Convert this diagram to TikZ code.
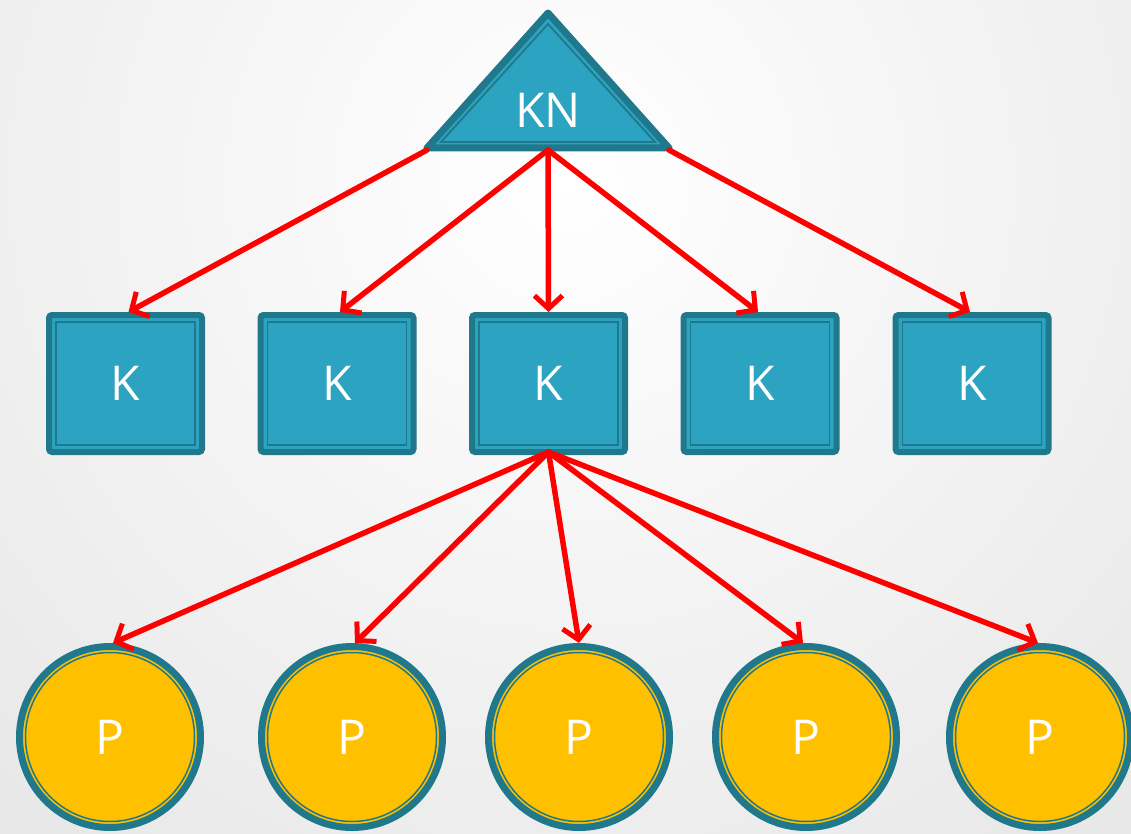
\documentclass[tikz,border=0pt]{standalone}
\usepackage{fontspec}
\setmainfont{Open Sans}
\usetikzlibrary{arrows.meta}
\definecolor{tealfill}{HTML}{2CA3C0}
\definecolor{tealdark}{HTML}{1F788B}
\definecolor{gold}{HTML}{FFC000}
\definecolor{arrowred}{HTML}{FF0000}
\tikzset{
  labeltext/.style={text=white,font=\fontsize{48}{50}\selectfont},
  kbox/.style={rectangle,draw=tealdark,fill=tealfill,line width=6pt,rounded corners=3pt,
    minimum width=153pt,minimum height=137pt,inner sep=0pt,labeltext},
  pcircle/.style={circle,draw=tealdark,fill=gold,line width=7pt,minimum size=181pt,inner sep=0pt,labeltext},
  innerline/.style={draw=tealdark,line width=1.8pt},
  connector/.style={draw=arrowred,line width=5.5pt,line cap=round,-{Straight Barb[length=13pt,width=28pt,line width=5pt]}}
}
\begin{document}
\begin{tikzpicture}[x=1pt,y=-1pt]
\useasboundingbox (0,0) rectangle (1131,834);
\begin{scope}
\clip (0,0) rectangle (1131,834);
\fill[white] (0,0) rectangle (1131,834);
\shade[inner color=white,outer color=black!10] (565,180) circle (920);
\end{scope}
% triangle
\draw[draw=tealdark,fill=tealfill,line width=7pt,line join=round] (548,13) -- (669,148) -- (427,148) -- cycle;
\draw[innerline,line join=miter] (548,24) -- (655,142) -- (441,142) -- cycle;
\node[labeltext] (kn) at (548,110) {KN};
\coordinate (knl) at (427,150);
\coordinate (knm) at (548,150);
\coordinate (knr) at (669,150);
% K boxes
\foreach \i/\x in {1/125.5,2/337,3/548.5,4/760,5/972}{
  \node[kbox] (k\i) at (\x,383.5) {K};
  \draw[innerline] ([shift={(10,10)}]k\i.north west) rectangle ([shift={(-10,-10)}]k\i.south east);
}
% P circles
\foreach \i/\x in {1/110,2/352,3/579,4/806,5/1040}{
  \node[pcircle] (p\i) at (\x,737) {P};
  \draw[innerline,line width=1.5pt] (p\i.center) circle (84.5);
}
% connectors
\draw[connector] (knl) -- ([xshift=3pt]k1.north);
\draw[connector] (knm) -- ([xshift=3pt]k2.north);
\draw[connector] (knm) -- (k3.north);
\draw[connector] (knm) -- ([xshift=-2pt]k4.north);
\draw[connector] (knr) -- ([xshift=-2pt]k5.north);
\draw[connector] ([yshift=3pt]k3.south) -- ([xshift=3pt]p1.north);
\draw[connector] ([yshift=3pt]k3.south) -- ([xshift=3pt]p2.north);
\draw[connector] ([yshift=3pt]k3.south) -- (p3.north);
\draw[connector] ([yshift=3pt]k3.south) -- ([xshift=-3pt]p4.north);
\draw[connector] ([yshift=3pt]k3.south) -- ([xshift=-2pt]p5.north);
\end{tikzpicture}
\end{document}
